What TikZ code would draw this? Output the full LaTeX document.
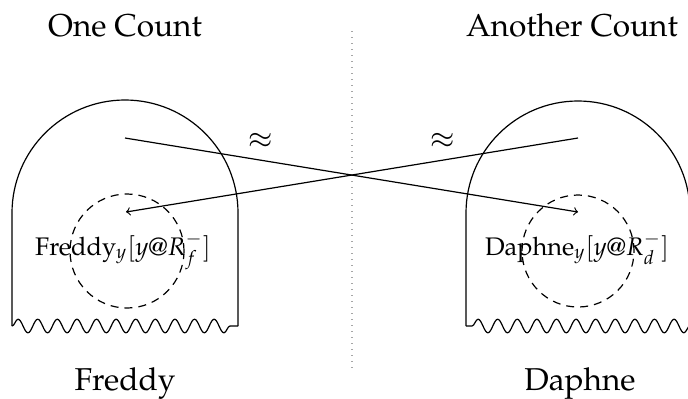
\documentclass[tikz,border=0pt]{standalone}
\usepackage[T1]{fontenc}
\usepackage{mathpazo}
\usetikzlibrary{decorations.pathmorphing}
\begin{document}
\begin{tikzpicture}[x=0.5pt,y=-0.5pt,
  outline/.style={line width=0.6pt},
  wavy/.style={line width=0.6pt, decorate,
    decoration={snake, amplitude=3.4pt, segment length=9.8pt}},
  zone/.style={draw, circle, inner sep=0pt, line width=0.6pt,
    dash pattern=on 4pt off 3pt},
  divider/.style={line width=0.6pt, gray!70, dash pattern=on 0.6pt off 2.4pt},
  link/.style={line width=0.6pt, ->},
  heading/.style={font=\fontsize{15.8}{19}\selectfont, inner sep=0pt, anchor=base},
  inlabel/.style={font=\fontsize{12.7}{15}\selectfont, inner sep=0pt, anchor=base},
  sim/.style={font=\fontsize{15}{18}\selectfont, inner sep=0pt}]
\clip (0,0) rectangle (688,398);

% column headings and names
\node[heading] (onecount) at (125,36) {One Count};
\node[heading] (anothercount) at (572,36) {Another Count};
\node[heading] (freddy) at (125,390) {Freddy};
\node[heading] (daphne) at (580,390) {Daphne};

% dotted separator between the two counts
\coordinate (divtop) at (352,31);
\coordinate (divbot) at (352,371);
\draw[divider] (divtop) -- (divbot);

% left figure
\draw[outline] (12,326) -- (12,213) arc[start angle=180, end angle=0, radius=56.5pt] -- (238,326);
\draw[wavy] (12,326) -- (238,326);
\node[zone, minimum size=57pt] (fzone) at (127,251) {};
\node[inlabel] (flabel) at (123,255) {Freddy$_y[y@R^-_f]$};

% right figure
\draw[outline] (466,326) -- (466,213) arc[start angle=180, end angle=0, radius=56pt] -- (690,326);
\draw[wavy] (690,326) -- (466,326);
\node[zone, minimum size=56pt] (dzone) at (578,251) {};
\node[inlabel] (dlabel) at (577,255) {Daphne$_y[y@R^-_d]$};

% crossing correspondences
\coordinate (fsrc) at (125,138);
\coordinate (fdst) at (126,212);
\coordinate (dsrc) at (578,138);
\coordinate (ddst) at (578,212);
\draw[link] (fsrc) -- node[sim, pos=0.3, yshift=9.5pt] {$\approx$} (ddst);
\draw[link] (dsrc) -- node[sim, pos=0.3, yshift=9.5pt] {$\approx$} (fdst);
\end{tikzpicture}
\end{document}
